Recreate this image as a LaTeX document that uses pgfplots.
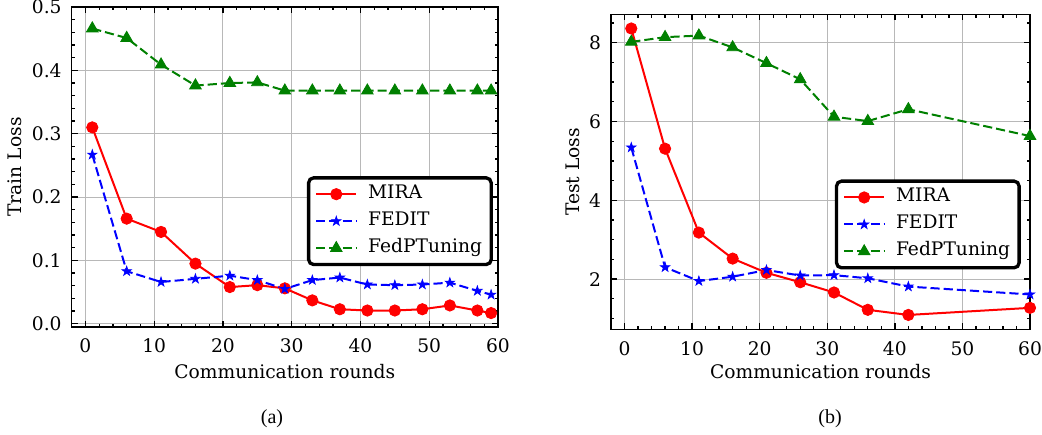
\documentclass[border=0pt]{standalone}
\usepackage{fontspec}
\setmainfont{DejaVu Serif}
\newfontfamily\capfont{Liberation Serif}
\usepackage{pgfplots}
\pgfplotsset{compat=1.18}
\usetikzlibrary{plotmarks}

\definecolor{mred}{rgb}{1,0,0}
\definecolor{mblue}{rgb}{0,0,1}
\definecolor{mgreen}{rgb}{0,0.5,0}
\definecolor{gridgray}{rgb}{0.72,0.72,0.72}

% filled five-point star, like matplotlib's '*'
\pgfdeclareplotmark{fstar}{%
  \pgfpathmoveto{\pgfpointpolar{90}{\pgfplotmarksize}}%
  \pgfpathlineto{\pgfpointpolar{126}{0.382\pgfplotmarksize}}%
  \pgfpathlineto{\pgfpointpolar{162}{\pgfplotmarksize}}%
  \pgfpathlineto{\pgfpointpolar{198}{0.382\pgfplotmarksize}}%
  \pgfpathlineto{\pgfpointpolar{234}{\pgfplotmarksize}}%
  \pgfpathlineto{\pgfpointpolar{270}{0.382\pgfplotmarksize}}%
  \pgfpathlineto{\pgfpointpolar{306}{\pgfplotmarksize}}%
  \pgfpathlineto{\pgfpointpolar{342}{0.382\pgfplotmarksize}}%
  \pgfpathlineto{\pgfpointpolar{18}{\pgfplotmarksize}}%
  \pgfpathlineto{\pgfpointpolar{54}{0.382\pgfplotmarksize}}%
  \pgfpathclose
  \pgfusepathqfillstroke
}

\newcommand\axfont{\fontsize{11.2}{13.4}\selectfont}

\pgfplotsset{
  lossax/.style={
    scale only axis,
    xmin=-2, xmax=60,
    xtick={0,10,...,60},
    xticklabels={0,10,20,30,40,50,60},
    minor xtick={-2,0,...,60},
    xmajorgrids, ymajorgrids,
    major grid style={gridgray, line width=0.6pt},
    axis line style={line width=0.9pt},
    every tick/.style={black, line width=0.8pt},
    major tick length=3.6pt, minor tick length=2pt,
    tick label style={font=\axfont},
    label style={font=\axfont},
    xticklabel style={yshift=-3.6pt},
    yticklabel style={xshift=-2.5pt},
    legend cell align=left,
    legend style={draw=black, line width=2pt, rounded corners=3pt,
      font=\axfont, anchor=south east,
      inner xsep=4pt, inner ysep=2.8pt, row sep=2.2pt, column sep=5pt,
      nodes={inner sep=1.5pt, text height=8.2pt, text depth=2.8pt}},
    legend image code/.code={\draw[mark repeat=2,mark phase=2,##1]
      plot coordinates {(0pt,0pt) (12pt,0pt) (24pt,0pt)};},
  },
  mira/.style={mred, line width=1.2pt, sharp corners, mark=*, mark size=3.4pt,
    mark options={solid, line width=0.5pt}},
  fedit/.style={mblue, line width=1.2pt, sharp corners, dash pattern=on 5.5pt off 2.4pt,
    mark=fstar, mark size=3pt, mark options={solid, line width=0.4pt}},
  fedp/.style={mgreen, line width=1.2pt, sharp corners, dash pattern=on 5.5pt off 2.4pt,
    mark=triangle*, mark size=4pt, mark options={solid, line width=0.5pt}},
}

\begin{document}
\begin{tikzpicture}
\useasboundingbox (0,0) rectangle (625.2pt,261pt);

% (a) train loss
\begin{axis}[lossax,
  at={(43pt,64.8pt)}, anchor=south west,
  width=255.8pt, height=192pt,
  ymin=-0.005, ymax=0.5,
  ytick={0,0.1,...,0.5},
  yticklabels={0.0,0.1,0.2,0.3,0.4,0.5},
  minor ytick={0,0.02,...,0.5},
  xlabel={Communication rounds},
  ylabel={Train Loss},
  xlabel style={at={(axis description cs:0.5,-0.1406)}, anchor=center},
  ylabel style={at={(axis description cs:-0.133,0.5)}, anchor=center},
  legend style={at={(0.988,0.19)}},
]
\addplot[mira] coordinates {(1,0.310)(6,0.166)(11,0.145)(16,0.095)(21,0.058)(25,0.061)(29,0.056)(33,0.037)(37,0.023)(41,0.021)(45,0.021)(49,0.023)(53,0.029)(57,0.021)(59,0.017)};
\addlegendentry{MIRA}
\addplot[fedit] coordinates {(1,0.267)(6,0.083)(11,0.066)(16,0.071)(21,0.076)(25,0.069)(29,0.055)(33,0.069)(37,0.073)(41,0.062)(45,0.061)(49,0.062)(53,0.065)(57,0.052)(59,0.046)};
\addlegendentry{FEDIT}
\addplot[fedp] coordinates {(1,0.466)(6,0.451)(11,0.409)(16,0.376)(21,0.380)(25,0.381)(29,0.368)(33,0.368)(37,0.368)(41,0.368)(45,0.368)(49,0.368)(53,0.368)(57,0.368)(59,0.368)};
\addlegendentry{FedPTuning}
\end{axis}

% (b) test loss
\begin{axis}[lossax,
  at={(366.6pt,63.4pt)}, anchor=south west,
  width=251.4pt, height=189pt,
  ymin=0.725, ymax=8.72,
  ytick={2,4,6,8},
  yticklabels={2,4,6,8},
  minor ytick={1,1.5,...,8.5},
  xlabel={Communication rounds},
  ylabel={Test Loss},
  xlabel style={at={(axis description cs:0.5,-0.1346)}, anchor=center},
  ylabel style={at={(axis description cs:-0.092,0.5)}, anchor=center},
  legend style={at={(0.978,0.19)}},
]
\addplot[mira] coordinates {(1,8.36)(6,5.31)(11,3.18)(16,2.52)(21,2.16)(26,1.92)(31,1.66)(36,1.22)(42,1.09)(60,1.27)};
\addlegendentry{MIRA}
\addplot[fedit] coordinates {(1,5.34)(6,2.30)(11,1.95)(16,2.06)(21,2.23)(26,2.09)(31,2.10)(36,2.02)(42,1.81)(60,1.61)};
\addlegendentry{FEDIT}
\addplot[fedp] coordinates {(1,8.02)(6,8.14)(11,8.18)(16,7.88)(21,7.48)(26,7.07)(31,6.12)(36,6.01)(42,6.31)(60,5.63)};
\addlegendentry{FedPTuning}
\end{axis}

\node[font=\capfont\fontsize{12}{14}\selectfont] at (163.2pt,9.6pt) {(a)};
\node[font=\capfont\fontsize{12}{14}\selectfont] at (498pt,9.6pt) {(b)};
\end{tikzpicture}
\end{document}
